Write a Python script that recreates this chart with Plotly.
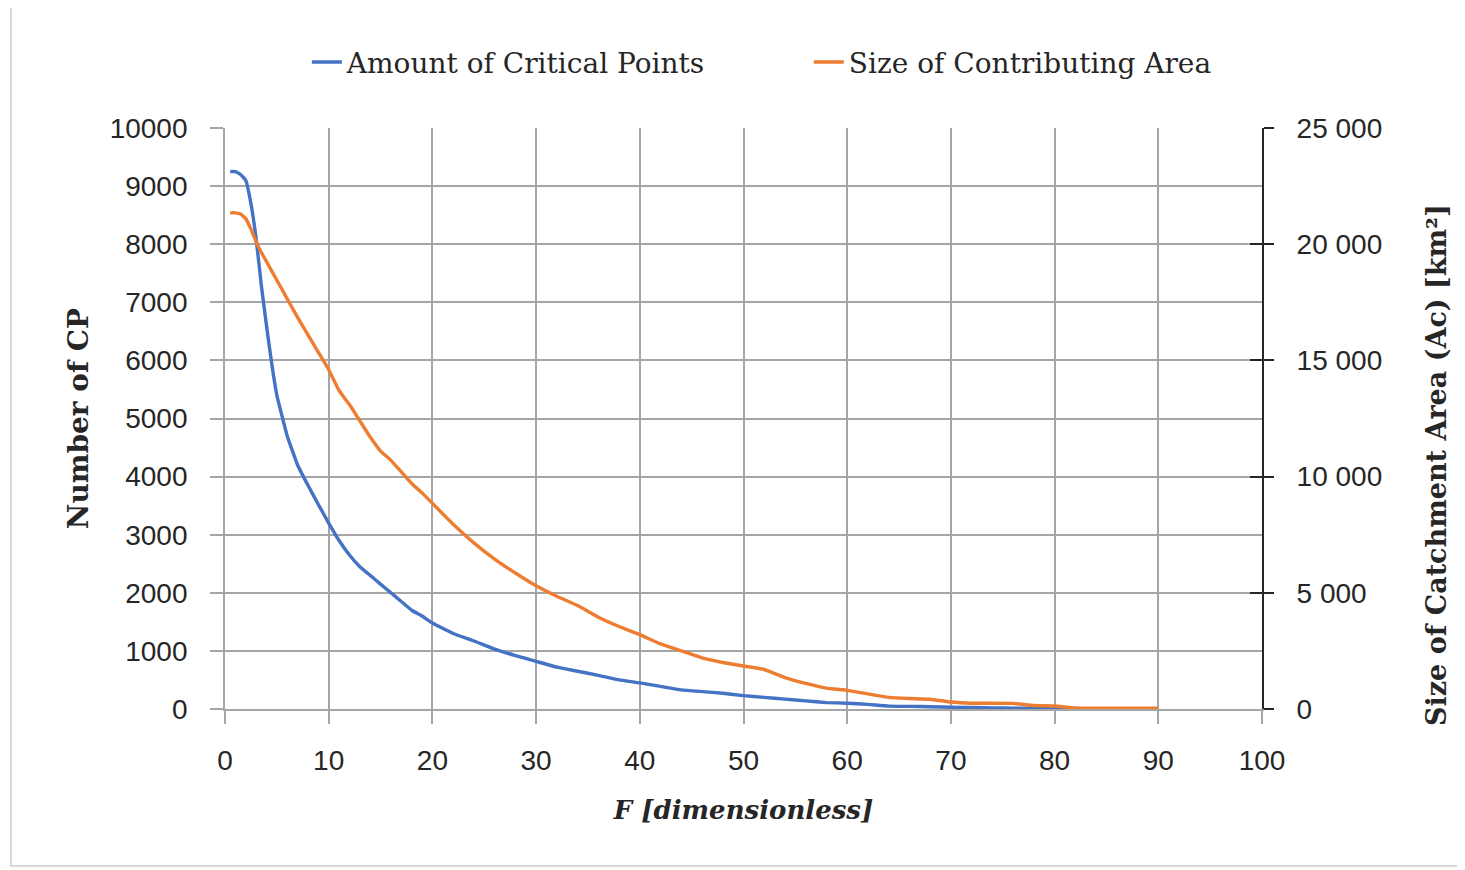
import plotly.graph_objects as go

F = [0.5, 1, 1.5, 2, 2.5, 3, 3.5, 4, 4.5, 5, 6, 7, 8, 9, 10, 11, 12, 13, 14, 15,
     16, 17, 18, 19, 20, 22, 24, 26, 28, 30, 32, 34, 36, 38, 40, 42, 44, 46, 48, 50,
     52, 54, 56, 58, 60, 62, 64, 66, 68, 70, 72, 74, 76, 78, 80, 82, 84, 86, 88, 90]

critical_points = [9250, 9250, 9200, 9100, 8700, 8100, 7300, 6600, 5950, 5400,
                   4700, 4200, 3850, 3520, 3200, 2900, 2650, 2450, 2300, 2150,
                   2000, 1850, 1700, 1600, 1480, 1300, 1170, 1030, 920, 820,
                   720, 650, 580, 500, 450, 390, 330, 300, 270, 230,
                   200, 170, 140, 110, 100, 80, 50, 45, 40, 30,
                   25, 20, 15, 10, 5, 0, None, None, None, None]

contributing_area = [21350, 21350, 21300, 21100, 20650, 20100, 19650, 19250, 18850, 18450,
                     17650, 16850, 16100, 15350, 14600, 13700, 13100, 12400, 11700, 11100,
                     10700, 10200, 9700, 9300, 8850, 7950, 7150, 6450, 5850, 5300,
                     4850, 4450, 3950, 3550, 3200, 2800, 2500, 2200, 2000, 1850,
                     1700, 1350, 1100, 900, 800, 650, 500, 450, 420, 300,
                     250, 250, 240, 150, 130, 40, 30, 30, 30, 30]

x_ticks = list(range(0, 101, 10))
y_left_ticks = list(range(0, 10001, 1000))
y_left_labels = [str(v) for v in y_left_ticks]
y_right_ticks = [0, 5000, 10000, 15000, 20000, 25000]
y_right_labels = ["0", "5 000", "10 000", "15 000", "20 000", "25 000"]

SERIF = "DejaVu Serif"
SANS = "Liberation Sans"
GRID = "#a6a6a6"
TXT = "#262626"
TICKFONT = dict(family=SANS, size=28, color=TXT)

fig = go.Figure()
fig.add_trace(go.Scatter(x=F, y=critical_points, mode="lines", name="Amount of Critical Points",
                         line=dict(color="#4472C4", width=3.4, shape="spline", smoothing=0.3),
                         yaxis="y"))
fig.add_trace(go.Scatter(x=F, y=contributing_area, mode="lines", name="Size of Contributing Area",
                         line=dict(color="#ED7D31", width=3.4, shape="spline", smoothing=0.3),
                         yaxis="y2"))
fig.add_trace(go.Scatter(x=[None], y=[None], yaxis="y3", showlegend=False, hoverinfo="skip"))

fig.update_layout(
    width=1465, height=870,
    margin=dict(l=217, r=211, t=120, b=169),
    paper_bgcolor="white", plot_bgcolor="white",
    showlegend=True,
    legend=dict(orientation="h", x=0.563, y=1.113, xanchor="center", yanchor="middle",
                font=dict(family=SERIF, size=28, color=TXT),
                entrywidth=457, entrywidthmode="pixels", bgcolor="rgba(0,0,0,0)"),
    xaxis=dict(range=[0, 100], tickvals=x_ticks, showgrid=True, gridcolor=GRID, gridwidth=1.8,
               zeroline=False, showline=True, linecolor=GRID, linewidth=1.8, mirror=False,
               ticks="outside", ticklen=13, tickwidth=1.8,
               tickcolor=GRID, tickfont=TICKFONT, ticklabelstandoff=12,
               title=dict(text="<b><i>F [dimensionless]</i></b>",
                          font=dict(family=SERIF, size=26, color=TXT), standoff=26)),
    yaxis=dict(range=[0, 10000], tickvals=y_left_ticks, ticktext=y_left_labels,
               showgrid=True, gridcolor=GRID, gridwidth=1.8,
               zeroline=False, showline=True, linecolor=GRID, linewidth=1.8,
               ticks="outside", ticklen=13, tickwidth=1.8,
               tickcolor=GRID, tickfont=TICKFONT, ticklabelstandoff=17,
               title=dict(text="<b>Number of CP</b>",
                          font=dict(family=SERIF, size=28, color=TXT), standoff=13)),
    yaxis2=dict(range=[0, 25000], tickvals=y_right_ticks, ticktext=y_right_labels,
                overlaying="y", side="right", showgrid=False, zeroline=False,
                showline=True, linecolor=TXT, linewidth=2,
                ticks="outside", ticklen=10, tickwidth=2, tickcolor=TXT,
                tickfont=TICKFONT, ticklabelstandoff=17),
    yaxis3=dict(range=[0, 25000], tickvals=y_right_ticks, showticklabels=False,
                overlaying="y", side="right", anchor="x", showgrid=False, zeroline=False,
                showline=False, ticks="inside", ticklen=12, tickwidth=2, tickcolor=TXT),
)

fig.add_annotation(text="<b>Size of Catchment Area (Ac) [km²]</b>", xref="paper", yref="paper",
                   x=1.1688, y=0.42, xanchor="center", yanchor="middle", textangle=-90,
                   showarrow=False, font=dict(family=SERIF, size=27, color=TXT))

fig.add_shape(type="rect", xref="paper", yref="paper",
              x0=-0.2064, x1=1.1929, y0=-0.2702, y1=1.2117,
              line=dict(color="#d9d9d9", width=2), fillcolor="rgba(0,0,0,0)", layer="below")

fig.write_html("out.html")
